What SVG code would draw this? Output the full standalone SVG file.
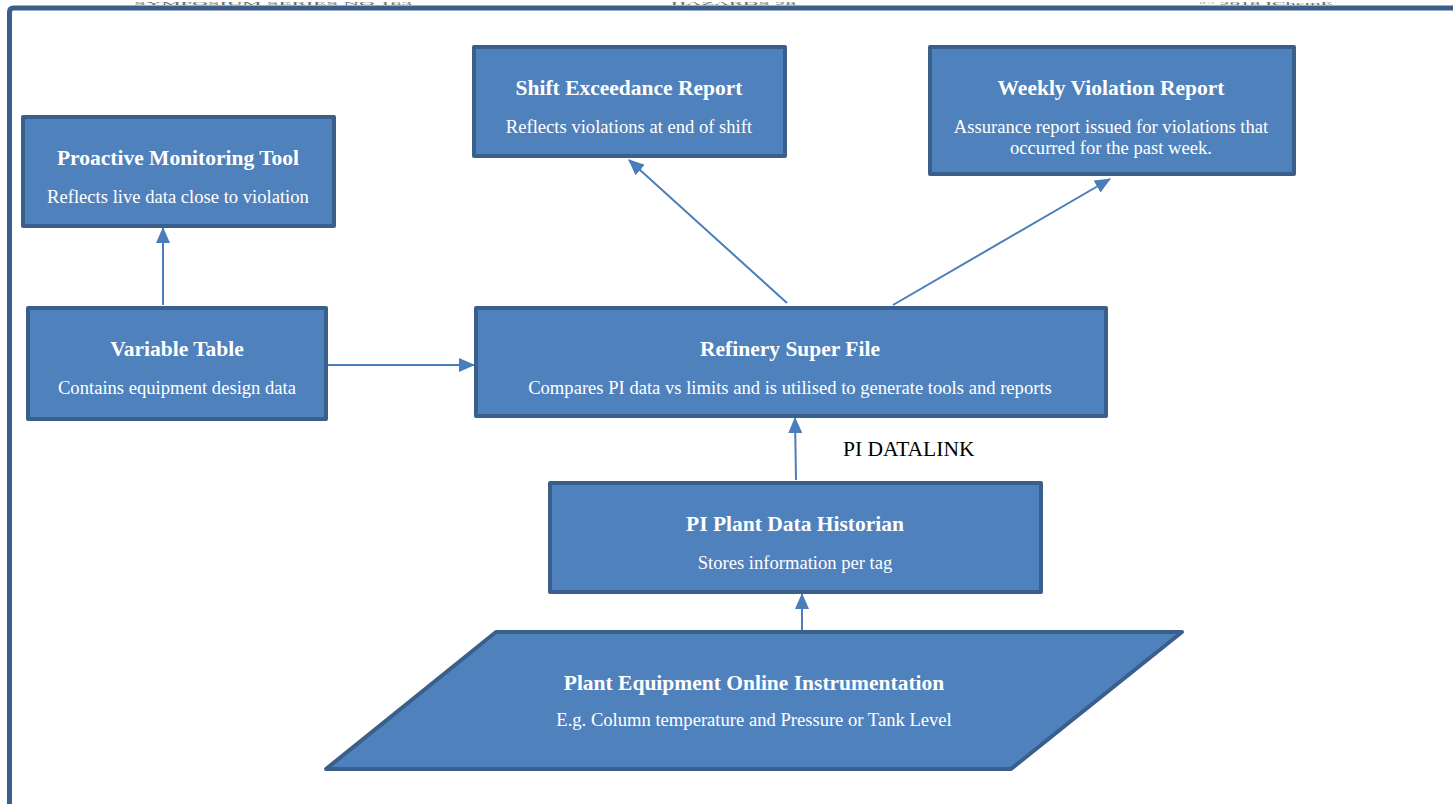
<svg xmlns="http://www.w3.org/2000/svg" width="1453" height="804" viewBox="0 0 1453 804">
<defs>
<style>
.box{fill:#4f81bd;stroke:#3a5f8b;stroke-width:4;stroke-linejoin:round}
.t{font-family:"Liberation Serif","Times New Roman",serif;font-weight:bold;font-size:21.5px;fill:#ffffff;text-anchor:middle}
.s{font-family:"Liberation Serif","Times New Roman",serif;font-size:18.6px;fill:#ffffff;text-anchor:middle}
.c{stroke:#4a7ebb;stroke-width:2;fill:none;marker-end:url(#ah)}
.hdr{font-family:"Liberation Serif","Times New Roman",serif;font-size:5px;fill:#666666}
</style>
<marker id="ah" markerUnits="userSpaceOnUse" markerWidth="16" markerHeight="14" refX="15" refY="7" orient="auto">
<path d="M0,0 L16,7 L0,14 Z" fill="#4a7ebb"/>
</marker>
</defs>
<rect width="1453" height="804" fill="#ffffff"/>
<g id="header">
<text class="hdr" x="134" y="5" textLength="278" lengthAdjust="spacingAndGlyphs">SYMPOSIUM SERIES NO 163</text>
<text class="hdr" x="671" y="5" textLength="125" lengthAdjust="spacingAndGlyphs">HAZARDS 28</text>
<text class="hdr" x="1199" y="5" textLength="134" lengthAdjust="spacingAndGlyphs">© 2018 IChemE</text>
</g>
<path id="frame" d="M9.5,804 L9.5,12 Q9.5,8 13.5,8 L1453,8" fill="none" stroke="#3a5f8b" stroke-width="5"/>
<g id="connectors">
<line class="c" x1="163" y1="305" x2="163" y2="228"/>
<line class="c" x1="328" y1="365" x2="474" y2="365"/>
<line class="c" x1="787" y1="303" x2="629" y2="160"/>
<line class="c" x1="893" y1="305" x2="1110" y2="179"/>
<line class="c" x1="796" y1="480" x2="795" y2="418"/>
<line class="c" x1="802" y1="630" x2="802" y2="594"/>
<text x="843" y="456" font-family="Liberation Serif, Times New Roman, serif" font-size="21.5" fill="#000000">PI DATALINK</text>
</g>
<g id="proactive">
<rect class="box" x="23" y="117" width="311" height="109"/>
<text class="t" x="178" y="165">Proactive Monitoring Tool</text>
<text class="s" x="178" y="203">Reflects live data close to violation</text>
</g>
<g id="shift">
<rect class="box" x="474" y="47" width="311" height="109"/>
<text class="t" x="629" y="95">Shift Exceedance Report</text>
<text class="s" x="629" y="133">Reflects violations at end of shift</text>
</g>
<g id="weekly">
<rect class="box" x="930" y="47" width="364" height="127"/>
<text class="t" x="1111" y="95">Weekly Violation Report</text>
<text class="s" x="1111" y="133">Assurance report issued for violations that</text>
<text class="s" x="1111" y="154">occurred for the past week.</text>
</g>
<g id="variable">
<rect class="box" x="28" y="308" width="298" height="111"/>
<text class="t" x="177" y="356">Variable Table</text>
<text class="s" x="177" y="394">Contains equipment design data</text>
</g>
<g id="refinery">
<rect class="box" x="476" y="308" width="630" height="108"/>
<text class="t" x="790" y="356">Refinery Super File</text>
<text class="s" x="790" y="394">Compares PI data vs limits and is utilised to generate tools and reports</text>
</g>
<g id="historian">
<rect class="box" x="550" y="483" width="491" height="109"/>
<text class="t" x="795" y="531">PI Plant Data Historian</text>
<text class="s" x="795" y="569">Stores information per tag</text>
</g>
<g id="plant">
<polygon class="box" points="496,632 1182,632 1011,769 326,769"/>
<text class="t" x="754" y="690">Plant Equipment Online Instrumentation</text>
<text class="s" x="754" y="726">E.g. Column temperature and Pressure or Tank Level</text>
</g>
</svg>
